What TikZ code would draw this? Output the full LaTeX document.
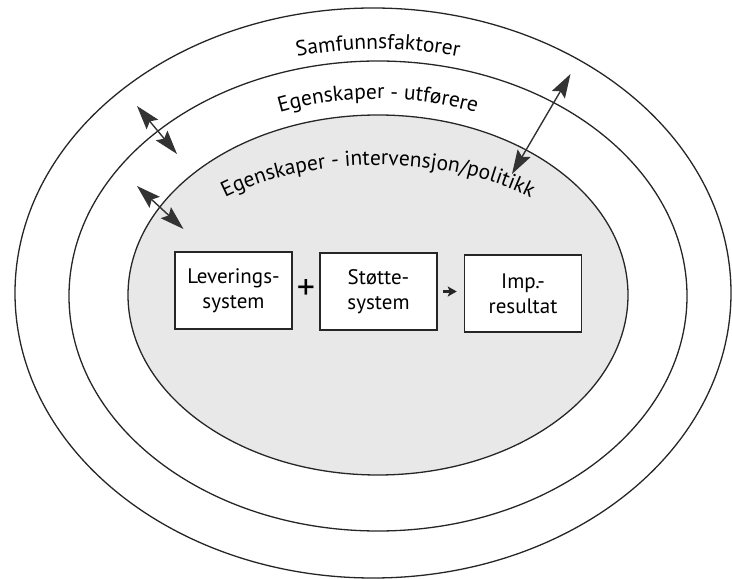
\documentclass[tikz,border=0pt]{standalone}
\usepackage{fontspec}
\setmainfont{PT Sans}
\usetikzlibrary{arrows.meta,decorations.text}
\newcommand\lblfont{\fontsize{21.5}{24}\selectfont}
\newcommand\boxfont{\fontsize{21}{25}\selectfont}
\begin{document}
\begin{tikzpicture}[x=1pt,y=1pt,
  ring/.style={draw=black!85, line width=1.3pt},
  stepbox/.style={draw=black!85, line width=1.5pt, fill=white, minimum width=117pt, minimum height=77pt, align=center, font=\boxfont, inner sep=0pt},
  dblarrow/.style={{Stealth[length=24pt,width=15pt,inset=4pt]}-{Stealth[length=24pt,width=15pt,inset=4pt]}, line width=1.4pt, draw=black!80, fill=black!80},
  smallarrow/.style={-{Stealth[length=9pt,width=10pt,inset=2pt]}, line width=2.2pt, draw=black!85},
  arclabel/.style={decorate, decoration={text along path, text align=center}}
]
\useasboundingbox (0,0) rectangle (732,579);
% ellipses
\draw[ring] (373,286) ellipse [x radius=358, y radius=285];
\draw[ring] (378,283) ellipse [x radius=309, y radius=235];
\draw[ring, fill=black!9] (378,284) ellipse [x radius=250, y radius=180];
% curved labels
\path[arclabel, decoration={text={|\lblfont|Samfunnsfaktorer}}]
  (57,283) arc[start angle=180, end angle=0, x radius=321, y radius=247];
\path[arclabel, decoration={text={|\lblfont|Egenskaper - utførere}}]
  (112,284) arc[start angle=180, end angle=0, x radius=266, y radius=196];
\path[arclabel, decoration={text={|\lblfont|Egenskaper - intervensjon/politikk}}]
  (148,284) arc[start angle=180, end angle=0, x radius=230, y radius=130];
% boxes
\node[stepbox] (b1) at (233.5,288.5) {Leverings-\\system};
\node[stepbox] (b2) at (378.5,287.5) {Støtte-\\system};
\node[stepbox] (b3) at (523,285.5) {Imp.-\\resultat};
\node[font=\fontsize{36}{36}\selectfont, inner sep=0pt] (plus) at (306,289) {+};
\draw[smallarrow, shorten <=5pt, shorten >=7pt] (b2.east) -- (b2.east -| b3.west);
% double arrows
\coordinate (a1s) at (137,473);
\coordinate (a1e) at (177,425);
\coordinate (a2s) at (137,393);
\coordinate (a2e) at (183.5,350);
\coordinate (a3s) at (570.5,505);
\coordinate (a3e) at (512,405);
\draw[dblarrow] (a1s) -- (a1e);
\draw[dblarrow] (a2s) -- (a2e);
\draw[dblarrow] (a3s) -- (a3e);
\end{tikzpicture}
\end{document}
